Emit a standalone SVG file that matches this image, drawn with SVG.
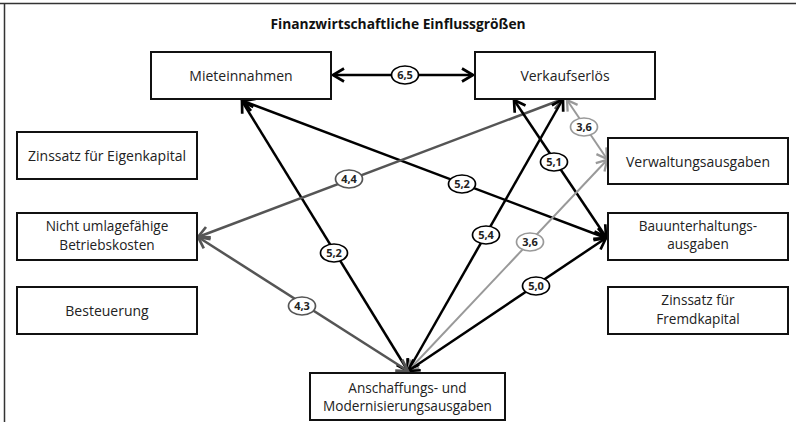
<svg xmlns="http://www.w3.org/2000/svg" width="796" height="422" viewBox="0 0 796 422">
<style>
.box{fill:#fff;stroke:#111;stroke-width:2}
.t{font-family:"Open Sans","Noto Sans",sans-serif;font-size:14px;fill:#222;text-anchor:middle}
.t2{font-family:"Open Sans","Noto Sans",sans-serif;font-size:13.6px;fill:#222;text-anchor:middle}
.title{font-family:"Open Sans","Noto Sans",sans-serif;font-size:13.8px;font-weight:bold;fill:#111;text-anchor:middle}
.lbl{font-family:"Open Sans","Noto Sans",sans-serif;font-size:11px;font-weight:bold;fill:#222;text-anchor:middle}
.e{fill:none;stroke-width:2.5}
.k{stroke:#000;marker-start:url(#ak);marker-end:url(#ak)}
.d{stroke:#555;marker-start:url(#ad);marker-end:url(#ad)}
.g{stroke:#999;stroke-width:2;marker-start:url(#ag);marker-end:url(#ag)}
.ek{fill:#fff;stroke:#000;stroke-width:1.7}
.ed{fill:#fff;stroke:#555;stroke-width:1.7}
.eg{fill:#fff;stroke:#999;stroke-width:1.7}
</style>
<defs>
<marker id="ak" viewBox="-14 -9 18 18" refX="0" refY="0" markerWidth="18" markerHeight="18" markerUnits="userSpaceOnUse" orient="auto-start-reverse"><path d="M-11,-6.5 L0,0 L-11,6.5" fill="none" stroke="#000" stroke-width="2.7"/></marker>
<marker id="ad" viewBox="-14 -9 18 18" refX="0" refY="0" markerWidth="18" markerHeight="18" markerUnits="userSpaceOnUse" orient="auto-start-reverse"><path d="M-11,-6.5 L0,0 L-11,6.5" fill="none" stroke="#555" stroke-width="2.7"/></marker>
<marker id="ag" viewBox="-14 -9 18 18" refX="0" refY="0" markerWidth="18" markerHeight="18" markerUnits="userSpaceOnUse" orient="auto-start-reverse"><path d="M-10,-6 L0,0 L-10,6" fill="none" stroke="#999" stroke-width="2.3"/></marker>
</defs>
<rect width="796" height="422" fill="#fff"/>
<g id="frame">
<line x1="0" y1="3.5" x2="796" y2="3.5" stroke="#333" stroke-width="1.5"/>
<line x1="4.5" y1="3" x2="4.5" y2="422" stroke="#333" stroke-width="1.5"/>
</g>
<text class="title" x="398" y="29">Finanzwirtschaftliche Einflussgrößen</text>
<g id="connectors">
<line class="e k" x1="333" y1="75" x2="473" y2="75"/>
<line class="e k" x1="408" y1="371" x2="242" y2="101"/>
<line class="e k" x1="243" y1="101" x2="606" y2="238"/>
<line class="e d" x1="563" y1="99" x2="198" y2="237"/>
<line class="e g" x1="567" y1="100" x2="607" y2="159"/>
<line class="e k" x1="514" y1="100" x2="606" y2="237"/>
<line class="e k" x1="408" y1="371" x2="563" y2="99"/>
<line class="e g" x1="408" y1="371" x2="607" y2="160"/>
<line class="e k" x1="408" y1="371" x2="606" y2="238"/>
<line class="e d" x1="408" y1="371" x2="198" y2="237"/>
<g id="labels">
<ellipse class="ek" cx="405" cy="75" rx="13.5" ry="9"/><text class="lbl" x="405" y="79">6,5</text>
<ellipse class="ek" cx="334" cy="253" rx="13.5" ry="9"/><text class="lbl" x="334" y="257">5,2</text>
<ellipse class="ek" cx="462" cy="184" rx="13.5" ry="9"/><text class="lbl" x="462" y="188">5,2</text>
<ellipse class="ed" cx="349" cy="179" rx="13.5" ry="9"/><text class="lbl" x="349" y="183">4,4</text>
<ellipse class="eg" cx="584" cy="127" rx="13.5" ry="9"/><text class="lbl" x="584" y="131">3,6</text>
<ellipse class="ek" cx="554" cy="162" rx="13.5" ry="9"/><text class="lbl" x="554" y="166">5,1</text>
<ellipse class="ek" cx="486" cy="235" rx="13.5" ry="9"/><text class="lbl" x="486" y="239">5,4</text>
<ellipse class="eg" cx="530" cy="242" rx="13.5" ry="9"/><text class="lbl" x="530" y="246">3,6</text>
<ellipse class="ek" cx="536" cy="286" rx="13.5" ry="9"/><text class="lbl" x="536" y="290">5,0</text>
<ellipse class="ed" cx="302" cy="306" rx="13.5" ry="9"/><text class="lbl" x="302" y="310">4,3</text>
</g>
</g>
<g id="n-miete"><rect class="box" x="151" y="52" width="180" height="47"/><text class="t" x="241" y="81">Mieteinnahmen</text></g>
<g id="n-verkauf"><rect class="box" x="475" y="52" width="180" height="47"/><text class="t" x="565" y="81">Verkaufserlös</text></g>
<g id="n-zinsek"><rect class="box" x="17" y="132" width="180" height="47"/><text class="t" x="107" y="161">Zinssatz für Eigenkapital</text></g>
<g id="n-verwaltung"><rect class="box" x="608" y="138" width="180" height="46"/><text class="t" x="698" y="166.5">Verwaltungsausgaben</text></g>
<g id="n-betrieb"><rect class="box" x="17" y="213" width="180" height="47"/><text class="t2" x="107" y="231">Nicht umlagefähige</text><text class="t2" x="107" y="249.6">Betriebskosten</text></g>
<g id="n-bau"><rect class="box" x="608" y="213" width="180" height="47"/><text class="t2" x="698" y="230.5">Bauunterhaltungs-</text><text class="t2" x="698" y="249.1">ausgaben</text></g>
<g id="n-steuer"><rect class="box" x="17" y="287" width="180" height="47"/><text class="t" x="107" y="315.5">Besteuerung</text></g>
<g id="n-zinsfk"><rect class="box" x="608" y="287" width="180" height="47"/><text class="t2" x="698" y="305">Zinssatz für</text><text class="t2" x="698" y="323.6">Fremdkapital</text></g>
<g id="n-anschaffung"><rect class="box" x="310" y="373" width="195" height="47"/><text class="t2" x="407.5" y="392.5">Anschaffungs- und</text><text class="t2" x="407.5" y="411.1">Modernisierungsausgaben</text></g>
</svg>
